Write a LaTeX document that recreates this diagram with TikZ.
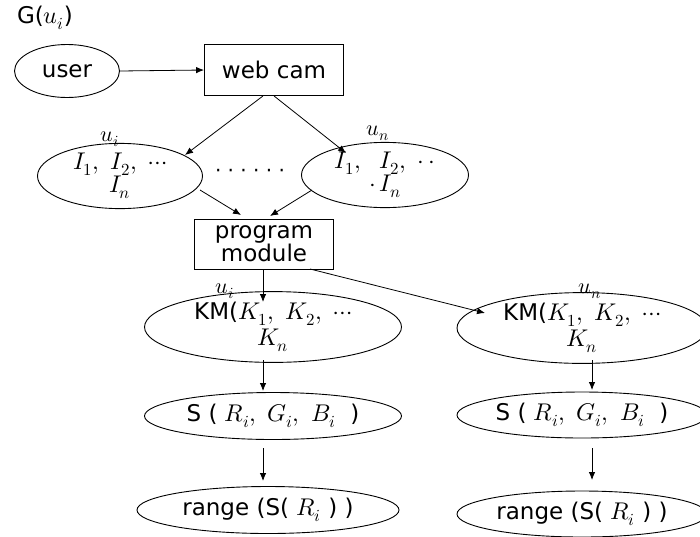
\documentclass[tikz,border=0pt]{standalone}
\usepackage{fontspec}
\usepackage{unicode-math}
\setmathfont{Latin Modern Math}[Scale=1.05]
\setmainfont{DejaVu Sans}
\usetikzlibrary{shapes.geometric,arrows.meta,calc}
\tikzset{
  txt/.style={font=\fontsize{23}{22}\selectfont},
  oval/.style={ellipse, draw, line width=0.9pt, inner sep=0pt, align=center, txt},
  boxnode/.style={rectangle, draw, line width=0.9pt, inner sep=0pt, align=center, txt},
  flow/.style={-{Latex[length=8pt,width=6.5pt]}, line width=0.8pt},
  tag/.style={font=\fontsize{21}{21}\selectfont, inner sep=0pt}
}
\begin{document}
\begin{tikzpicture}[x=1pt,y=-1pt]
\clip (0,0) rectangle (700,536);
\useasboundingbox (0,0) rectangle (700,536);

\node[tag, txt] (title) at (45,18) {G($u_i$)};

% capture stage
\node[oval, minimum width=105pt, minimum height=53pt] (user) at (67,71) {user};
\node[boxnode, minimum width=139pt, minimum height=51pt] (cam) at (274,70) {web cam};

% image sets per user
\node[oval, minimum width=165pt, minimum height=48pt] (il) at (120,176) {$I_1,\ I_2,\ \cdots$\\$I_n$};
\node[tag] (uil) at (110,139) {$u_i$};
\node[tag, font=\fontsize{20}{20}\selectfont] (dots) at (250,173) {· · · · · ·};
\node[oval, minimum width=167pt, minimum height=50pt] (ir) at (385,175) {$I_1,\ \ I_2,\ \cdot\,\cdot$\\$\cdot\, I_n$};
\node[tag] (unr) at (378,133) {$u_n$};

\node[boxnode, minimum width=139pt, minimum height=50pt] (prog) at (264,244) {program\\module};

% left branch
\node[oval, minimum width=257pt, minimum height=47pt] (kml) at (273,327) {KM($K_1,\ K_2,\ \cdots$\\[3pt]$K_n$};
\node[tag] (ukl) at (225,291) {$u_i$};
\node[oval, minimum width=257pt, minimum height=47pt] (sl) at (273,416) {S (\ $R_i,\ G_i,\ B_i$\ \ )};
\node[oval, minimum width=262pt, minimum height=47pt] (rl) at (268,510) {range (S(\ $R_i$\ ) )};

% right branch
\node[oval, minimum width=250pt, minimum height=49pt] (kmr) at (582,328) {KM($K_1,\ K_2,\ \cdots$\\[3pt]$K_n$};
\node[tag] (ukr) at (590,291) {$u_n$};
\node[oval, minimum width=250pt, minimum height=46pt] (sr) at (582,415) {S (\ $R_i,\ G_i,\ B_i$\ \ )};
\node[oval, minimum width=250pt, minimum height=46pt] (rr) at (582,514) {range (S(\ $R_i$\ ) )};

% connectors
\draw[flow] (user.east) -- (cam.west);
\draw[flow] ($(cam.south)+(-11,0)$) -- ($(il.center)+(65,-21)$);
\draw[flow] (cam.south) -- ($(ir.center)+(-39,-22)$);
\draw[flow] ($(il.center)+(80,14)$) -- ($(prog.center)+(-23,-29)$);
\draw[flow] ($(ir.center)+(-73,15)$) -- ($(prog.center)+(6,-28)$);
\draw[flow] ($(prog.center)+(-1,25)$) -- ($(kml.center)+(-10,-25)$);
\draw[flow] ($(prog.center)+(46,25)$) -- ($(kmr.center)+(-97,-15)$);
\draw[flow] ($(kml.center)+(-10,33)$) -- ($(sl.center)+(-10,-25)$);
\draw[flow] ($(sl.center)+(-10,32)$) -- ($(rl.center)+(-5,-29)$);
\draw[flow] ($(kmr.center)+(10,32)$) -- ($(sr.center)+(10,-25)$);
\draw[flow] ($(sr.center)+(10,33)$) -- ($(rr.center)+(10,-34)$);
\end{tikzpicture}
\end{document}
